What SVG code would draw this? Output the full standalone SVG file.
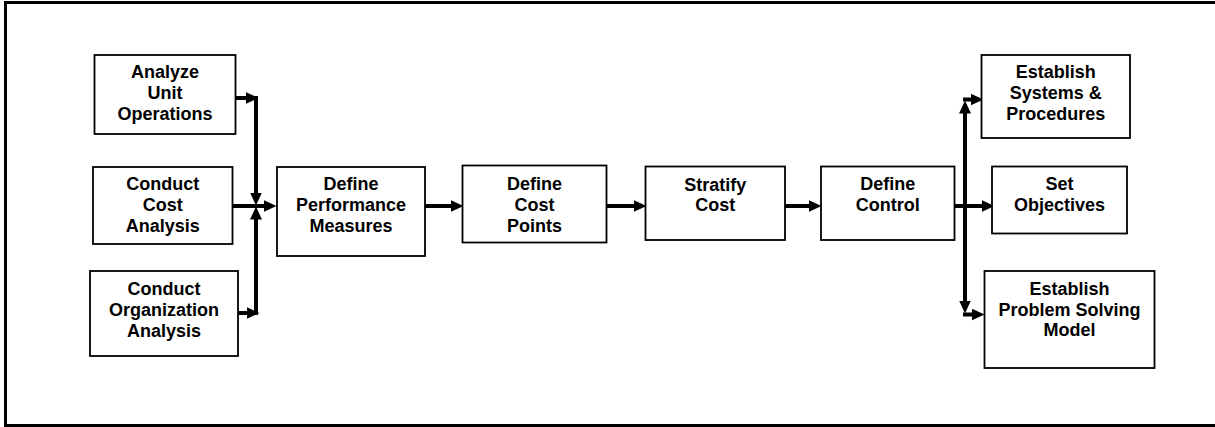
<svg xmlns="http://www.w3.org/2000/svg" width="1215" height="427" viewBox="0 0 1215 427">
<style>
.box{fill:#fff;stroke:#000;stroke-width:1.8}
.t{font-family:"Liberation Sans",Arial,sans-serif;font-weight:bold;font-size:18px;fill:#000;text-anchor:middle}
.c{fill:none;stroke:#000;stroke-width:4}
.frame{fill:none;stroke:#000;stroke-width:3}
</style>
<defs>
<marker id="ah" markerUnits="userSpaceOnUse" markerWidth="13" markerHeight="12" refX="6" refY="5.5" orient="auto-start-reverse" viewBox="0 0 12 11">
<path d="M0,0 L12,5.5 L0,11 z" fill="#000"/>
</marker>
</defs>
<path class="frame" d="M1215,2.5 H5.5 V425.5 H1215"/>
<g id="connectors">
<path class="c" d="M235,98 H252" marker-end="url(#ah)"/>
<path class="c" d="M256,96 V199" marker-end="url(#ah)"/>
<path class="c" d="M238,313 H253" marker-end="url(#ah)"/>
<path class="c" d="M256,315 V213" marker-end="url(#ah)"/>
<path class="c" d="M232,206 H270" marker-end="url(#ah)"/>
<path class="c" d="M425,206 H457" marker-end="url(#ah)"/>
<path class="c" d="M607,206 H640" marker-end="url(#ah)"/>
<path class="c" d="M785,206 H815" marker-end="url(#ah)"/>
<path class="c" d="M954,206 H988" marker-end="url(#ah)"/>
<path class="c" d="M965,107 V307" marker-start="url(#ah)" marker-end="url(#ah)"/>
<path class="c" d="M963,99.5 H977" marker-end="url(#ah)"/>
<path class="c" d="M963,314.5 H978" marker-end="url(#ah)"/>
</g>
<g id="n1"><rect class="box" x="94.5" y="55" width="141" height="79"/>
<text class="t"><tspan x="165" y="78">Analyze</tspan><tspan x="165" y="99">Unit</tspan><tspan x="165" y="120">Operations</tspan></text></g>
<g id="n2"><rect class="box" x="93" y="167" width="139.5" height="77"/>
<text class="t"><tspan x="162.8" y="190">Conduct</tspan><tspan x="162.8" y="211">Cost</tspan><tspan x="162.8" y="232">Analysis</tspan></text></g>
<g id="n3"><rect class="box" x="90" y="271" width="148" height="85"/>
<text class="t"><tspan x="164" y="295">Conduct</tspan><tspan x="164" y="316">Organization</tspan><tspan x="164" y="337">Analysis</tspan></text></g>
<g id="n4"><rect class="box" x="277" y="167" width="148" height="89"/>
<text class="t"><tspan x="351" y="190">Define</tspan><tspan x="351" y="211">Performance</tspan><tspan x="351" y="232">Measures</tspan></text></g>
<g id="n5"><rect class="box" x="462.5" y="165.5" width="144" height="77"/>
<text class="t"><tspan x="534.5" y="189.5">Define</tspan><tspan x="534.5" y="210.5">Cost</tspan><tspan x="534.5" y="231.5">Points</tspan></text></g>
<g id="n6"><rect class="box" x="645.5" y="166.5" width="139.5" height="73.5"/>
<text class="t"><tspan x="715.3" y="190.5">Stratify</tspan><tspan x="715.3" y="211">Cost</tspan></text></g>
<g id="n7"><rect class="box" x="821" y="166.5" width="133.5" height="73.5"/>
<text class="t"><tspan x="887.8" y="190">Define</tspan><tspan x="887.8" y="211">Control</tspan></text></g>
<g id="n8"><rect class="box" x="981.5" y="55" width="148.5" height="83"/>
<text class="t"><tspan x="1055.8" y="78">Establish</tspan><tspan x="1055.8" y="99">Systems &amp;</tspan><tspan x="1055.8" y="120">Procedures</tspan></text></g>
<g id="n9"><rect class="box" x="992" y="166.5" width="135" height="67"/>
<text class="t"><tspan x="1059.5" y="190">Set</tspan><tspan x="1059.5" y="211">Objectives</tspan></text></g>
<g id="n10"><rect class="box" x="984.5" y="271" width="170" height="97"/>
<text class="t"><tspan x="1069.5" y="294.5">Establish</tspan><tspan x="1069.5" y="315.5">Problem Solving</tspan><tspan x="1069.5" y="336">Model</tspan></text></g>
</svg>
